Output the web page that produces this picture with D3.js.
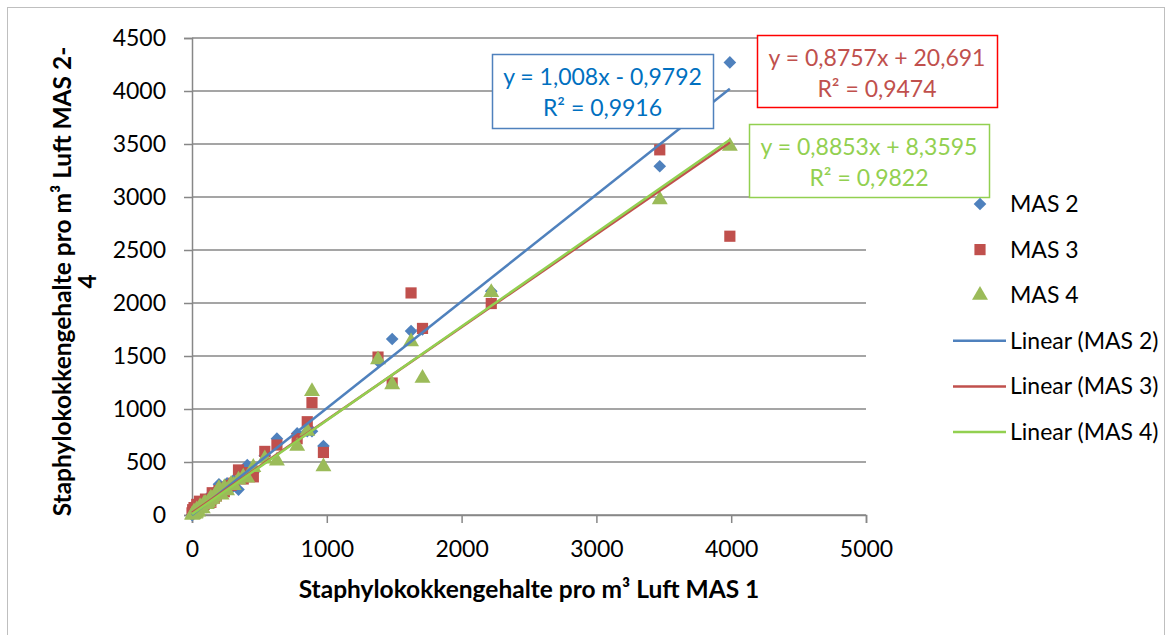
<!DOCTYPE html>
<html>
<head>
<meta charset="utf-8">
<script src="https://cdn.jsdelivr.net/npm/d3@7/dist/d3.min.js"></script>
<style>
  body { margin: 0; background: #fff; }
  svg { display: block; font-family: Lato, 'Open Sans', sans-serif; }
</style>
</head>
<body>
<div id="chart"></div>
<script>
// MAS 1 readings (x) and the matching MAS 2 / 3 / 4 readings
const mas1 = [3990, 3470, 2220, 1710, 1625, 1485, 1380, 975, 890, 855, 780, 630, 540, 455, 410,
              380, 345, 310, 290, 260, 240, 220, 200, 180, 165, 150, 140, 130, 120, 110, 100, 90,
              80, 70, 60, 55, 45, 40, 35, 30, 25, 20, 15, 10, 5, 0];
const mas2 = [4270, 3290, 2110, 1750, 1735, 1660, 1450, 650, 790, 790, 770, 720, 560, 400, 470,
              380, 240, 330, 250, 300, 270, 260, 290, 230, 210, 200, 190, 170, 150, 150, 130, 120,
              100, 90, 70, 60, 60, 50, 40, 30, 30, 20, 20, 10, 5, 0];
const mas3 = [2630, 3445, 1995, 1760, 2095, 1245, 1490, 590, 1060, 880, 720, 660, 600, 360, 400,
              340, 425, 300, 280, 260, 220, 250, 230, 180, 160, 210, 120, 130, 110, 140, 150, 100,
              90, 110, 120, 130, 70, 80, 100, 60, 50, 40, 70, 30, 50, 20];
const mas4 = [3480, 2975, 2100, 1290, 1635, 1230, 1465, 455, 1165, 790, 650, 510, 530, 450, 350,
              360, 330, 280, 290, 230, 260, 190, 250, 200, 170, 150, 160, 140, 120, 100, 110, 110,
              60, 70, 80, 60, 30, 40, 50, 20, 10, 15, 30, 5, 0, 0];

const seriesNames = ['MAS 2', 'MAS 3', 'MAS 4'];
const trendNames = ['Linear (MAS 2)', 'Linear (MAS 3)', 'Linear (MAS 4)'];
const trendSlopes = [1.008, 0.8757, 0.8853];
const trendIntercepts = [-0.9792, 20.691, 8.3595];
const trendEquations = ['y = 1,008x - 0,9792', 'y = 0,8757x + 20,691', 'y = 0,8853x + 8,3595'];
const trendR2 = ['R² = 0,9916', 'R² = 0,9474', 'R² = 0,9822'];

const xTicks = [0, 1000, 2000, 3000, 4000, 5000];
const yTicks = [0, 500, 1000, 1500, 2000, 2500, 3000, 3500, 4000, 4500];

const xTitle = 'Staphylokokkengehalte pro m³ Luft MAS 1';
const yTitleLines = ['Staphylokokkengehalte pro m³ Luft MAS 2-', '4'];

const width = 1171, height = 635;
const markerColors = ['#4F81BD', '#C0504D', '#9BBB59'];
const lineColors = ['#4F81BD', '#C0504D', '#92D050'];
const textColors = ['#0070C0', '#C0504D', '#92D050'];
const boxBorders = ['#4F81BD', '#FF0000', '#92D050'];
const labelSize = '23px';
const titleSize = '24.5px';

const svg = d3.select('#chart').append('svg')
    .attr('width', width)
    .attr('height', height);

// chart frame
svg.append('rect')
    .attr('x', 7.5).attr('y', 7.5)
    .attr('width', 1157).attr('height', 640)
    .attr('fill', 'none')
    .attr('stroke', '#BFBFBF');

const x = d3.scaleLinear().domain([0, 5000]).range([192, 866]);
const y = d3.scaleLinear().domain([0, 4500]).range([515, 38]);

// horizontal gridlines
svg.append('g')
    .selectAll('line')
    .data(yTicks)
    .join('line')
    .attr('x1', x(0)).attr('x2', x(5000))
    .attr('y1', d => y(d)).attr('y2', d => y(d))
    .attr('stroke', '#878787')
    .attr('stroke-width', 1.5);

const yAxis = svg.append('g')
    .attr('transform', `translate(${x(0)},0)`)
    .call(d3.axisLeft(y).tickValues(yTicks).tickSize(8).tickPadding(18).tickFormat(d3.format('d')));

const xAxis = svg.append('g')
    .attr('transform', `translate(0,${y(0)})`)
    .call(d3.axisBottom(x).tickValues(xTicks).tickSize(8).tickPadding(18).tickFormat(d3.format('d')));

[xAxis, yAxis].forEach(ax => {
    ax.select('.domain').attr('stroke', '#878787').attr('stroke-width', 1.5);
    ax.selectAll('.tick line').attr('stroke', '#878787').attr('stroke-width', 1.5);
    ax.selectAll('.tick text')
        .attr('fill', '#000')
        .style('font-size', labelSize)
        .style('font-family', "Lato, 'Open Sans', sans-serif");
});

// axis titles
svg.append('text')
    .attr('x', (x(0) + x(5000)) / 2)
    .attr('y', 598)
    .attr('text-anchor', 'middle')
    .style('font-size', titleSize)
    .style('font-weight', 'bold')
    .text(xTitle);

const yTitle = svg.append('text')
    .attr('transform', `translate(71,${(y(0) + y(4500)) / 2 + 5}) rotate(-90)`)
    .attr('text-anchor', 'middle')
    .style('font-size', titleSize)
    .style('font-weight', 'bold');
yTitleLines.forEach((line, i) => {
    yTitle.append('tspan')
        .attr('x', 0)
        .attr('dy', i === 0 ? 0 : 25)
        .text(line);
});

// markers
const symbols = [
    d3.symbol(d3.symbolSquare, 80),
    d3.symbol(d3.symbolSquare, 125),
    d3.symbol(d3.symbolTriangle, 110)
];
const rotations = [45, 0, 0];
const seriesValues = [mas2, mas3, mas4];

seriesValues.forEach((vals, s) => {
    svg.append('g')
        .selectAll('path')
        .data(vals.map((v, i) => ({ x: mas1[i], y: v })))
        .join('path')
        .attr('d', symbols[s])
        .attr('transform', d => `translate(${x(d.x)},${y(d.y)}) rotate(${rotations[s]})`)
        .attr('fill', markerColors[s]);
});

// linear trend lines over the MAS 1 range
const xExtent = d3.extent(mas1);
trendSlopes.forEach((m, s) => {
    const pts = xExtent.map(v => [v, m * v + trendIntercepts[s]]);
    svg.append('path')
        .attr('d', d3.line().x(d => x(d[0])).y(d => y(d[1]))(pts))
        .attr('fill', 'none')
        .attr('stroke', lineColors[s])
        .attr('stroke-width', 2.5);
});

// equation labels
const boxes = [
    { x: 492, y: 54, w: 221, h: 74 },
    { x: 757, y: 35, w: 240, h: 72 },
    { x: 749, y: 124, w: 240, h: 73 }
];
boxes.forEach((b, s) => {
    const g = svg.append('g');
    g.append('rect')
        .attr('x', b.x + 0.5).attr('y', b.y + 0.5)
        .attr('width', b.w).attr('height', b.h)
        .attr('fill', '#fff')
        .attr('stroke', boxBorders[s])
        .attr('stroke-width', 1.5);
    [trendEquations[s], trendR2[s]].forEach((t, i) => {
        g.append('text')
            .attr('x', b.x + b.w / 2)
            .attr('y', b.y + 31 + i * 31)
            .attr('text-anchor', 'middle')
            .attr('fill', textColors[s])
            .style('font-size', labelSize)
            .text(t);
    });
});

// legend
const legend = svg.append('g');
const legendItems = seriesNames.map((n, s) => ({ name: n, type: 'marker', s }))
    .concat(trendNames.map((n, s) => ({ name: n, type: 'line', s })));
legendItems.forEach((item, i) => {
    const ly = 204 + i * 45.6;
    if (item.type === 'marker') {
        legend.append('path')
            .attr('d', symbols[item.s])
            .attr('transform', `translate(980,${ly}) rotate(${rotations[item.s]})`)
            .attr('fill', markerColors[item.s]);
    } else {
        legend.append('line')
            .attr('x1', 953).attr('x2', 1006)
            .attr('y1', ly).attr('y2', ly)
            .attr('stroke', lineColors[item.s])
            .attr('stroke-width', 2.5);
    }
    legend.append('text')
        .attr('x', 1010)
        .attr('y', ly + 8)
        .style('font-size', labelSize)
        .text(item.name);
});
</script>
</body>
</html>
